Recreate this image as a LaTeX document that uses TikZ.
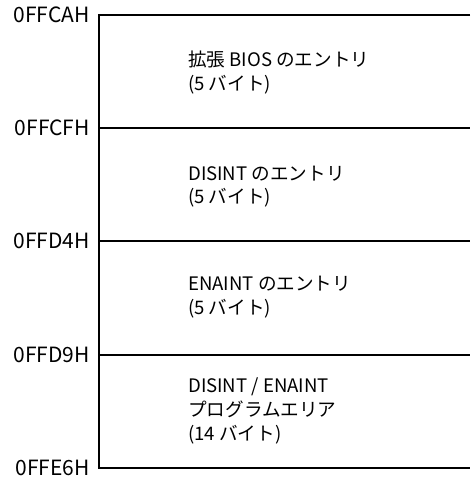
\documentclass[tikz,border=0pt]{standalone}
\usepackage{fontspec}
\setmainfont{Noto Sans CJK JP}
\usetikzlibrary{positioning}

\begin{document}
\begin{tikzpicture}[x=1pt,y=-1pt,
  addr/.style={anchor=east,inner sep=0pt,font=\fontsize{21}{21}\selectfont},
  entry/.style={anchor=base west,align=left,inner sep=0pt,font=\fontsize{18.6}{24}\selectfont},
  rule/.style={line width=1.4pt}]
\useasboundingbox (0,0) rectangle (470,478);
\foreach \i/\y in {0/15,1/128,2/241,3/355,4/468} {
  \coordinate (l\i) at (99,\y);
  \coordinate (r\i) at (470,\y);
}
% addresses
\node[addr] (a0) at (90,15) {0FFCAH};
\node[addr] (a1) at (90,128) {0FFCFH};
\node[addr] (a2) at (90,241) {0FFD4H};
\node[addr] (a3) at (90,355) {0FFD9H};
\node[addr] (a4) at (90,468) {0FFE6H};
% memory map
\draw[rule] (r0) -- (l0) -- (l4) -- (r4);
\foreach \i in {1,2,3} \draw[rule] (l\i) -- (r\i);
% entries (placed by baseline of last line)
\node[entry] (e0) at (188,91) {拡張 BIOS のエントリ\\(5 バイト)};
\node[entry] (e1) at (188,204) {DISINT のエントリ\\(5 バイト)};
\node[entry] (e2) at (188,314) {ENAINT のエントリ\\(5 バイト)};
\node[entry] (e3) at (188,440) {DISINT / ENAINT\\プログラムエリア\\(14 バイト)};
\end{tikzpicture}
\end{document}
